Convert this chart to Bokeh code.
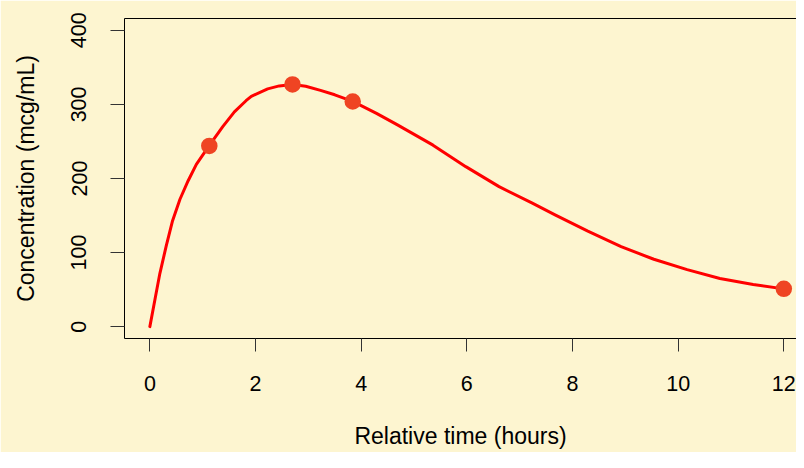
from bokeh.plotting import figure
from bokeh.models import LinearAxis, FixedTicker, Range1d, ColumnDataSource
from bokeh.embed import file_html
from bokeh.resources import INLINE

# Fitted concentration curve
curve_time = [0.0, 0.10, 0.19, 0.31, 0.43, 0.57, 0.725, 0.88, 1.13, 1.38, 1.60,
              1.82, 1.92, 2.23, 2.45, 2.70, 2.95, 3.23, 3.50, 3.84, 4.29, 4.67,
              5.36, 5.98, 6.61, 7.23, 7.67, 8.29, 8.92, 9.54, 10.17, 10.79,
              11.42, 12.0]
curve_conc = [0, 38, 72, 109, 143, 172, 197, 219, 245, 270, 290,
              305, 311, 321, 325, 327, 324.5, 319, 313, 304, 288, 273,
              245, 216, 189, 167, 151, 129, 108, 91, 77, 65,
              57, 51]

# Observed samples
obs_time = [1.125, 2.70, 3.84, 12.0]
obs_conc = [244, 327, 304, 51]

x_ticks = [0, 2, 4, 6, 8, 10, 12]
y_ticks = [0, 100, 200, 300, 400]

BG = "#FDF5D0"
FONT = "Liberation Sans"

p = figure(width=796, height=452, output_backend="svg", toolbar_location=None,
           x_range=Range1d(-0.48, 12.24), y_range=Range1d(-16, 416),
           x_axis_location=None, y_axis_location=None,
           min_border_left=124, min_border_right=0, min_border_top=18,
           min_border_bottom=114)
p.background_fill_color = BG
p.border_fill_color = BG
p.outline_line_color = None
p.xgrid.visible = False
p.ygrid.visible = False

def style(ax, ticks, tick_len):
    ax.ticker = FixedTicker(ticks=ticks)
    ax.axis_line_color = "black"
    ax.axis_line_width = 1
    ax.major_tick_line_color = "#333333"
    ax.major_tick_out = tick_len
    ax.major_tick_in = 0
    ax.minor_tick_line_color = None
    ax.major_label_text_font = FONT
    ax.major_label_text_font_size = "21.5px"
    ax.major_label_text_color = "black"
    ax.axis_label_text_font = FONT
    ax.axis_label_text_font_size = "23px"
    ax.axis_label_text_font_style = "normal"
    ax.axis_label_text_color = "black"

xax = LinearAxis(axis_label="Relative time (hours)")
style(xax, x_ticks, 13)
xax.major_label_standoff = 24
xax.axis_label_standoff = 29
p.add_layout(xax, "below")

yax = LinearAxis(axis_label="Concentration (mcg/mL)")
style(yax, y_ticks, 14)
yax.major_label_orientation = "vertical"
yax.major_label_standoff = 24
yax.axis_label_standoff = 30
p.add_layout(yax, "left")

top = LinearAxis()
top.ticker = FixedTicker(ticks=[])
top.axis_line_color = "black"
top.major_tick_out = 0
top.major_tick_in = 0
top.minor_tick_out = 0
top.minor_tick_in = 0
top.major_label_standoff = 0
top.major_label_text_font_size = "0px"
p.add_layout(top, "above")

src_curve = ColumnDataSource(data=dict(t=curve_time, c=curve_conc))
src_obs = ColumnDataSource(data=dict(t=obs_time, c=obs_conc))

p.line("t", "c", source=src_curve, line_color="#FF0000", line_width=3,
       line_join="round", line_cap="round")
p.scatter("t", "c", source=src_obs, size=16.5, fill_color="#EF4423",
          line_color=None)

open("out.html", "w").write(file_html(p, INLINE))
